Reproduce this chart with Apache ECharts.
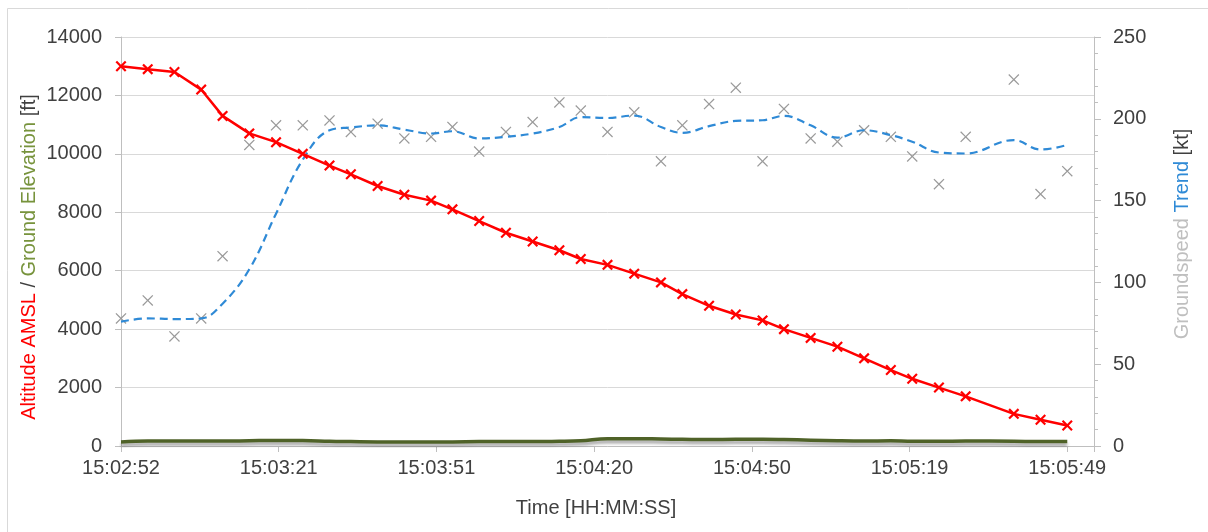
<!DOCTYPE html>
<html><head><meta charset="utf-8">
<script src="https://cdn.jsdelivr.net/npm/echarts@6/dist/echarts.min.js"></script>
<style>html,body{margin:0;padding:0;background:#fff}#c{width:1208px;height:532px}</style>
</head><body><div id="c"></div>
<script>
const times = ['15:02:52','15:02:57','15:03:02','15:03:07','15:03:11','15:03:16','15:03:21','15:03:26','15:03:31','15:03:35','15:03:40','15:03:45','15:03:50',
  '15:03:54','15:03:59','15:04:04','15:04:09','15:04:14','15:04:18','15:04:23','15:04:28','15:04:33','15:04:37','15:04:42','15:04:47','15:04:52',
  '15:04:56','15:05:01','15:05:06','15:05:11','15:05:16','15:05:20','15:05:25','15:05:30','15:05:39','15:05:44','15:05:49'];
const altitude = [13000,12900,12800,12200,11300,10700,10400,10000,9600,9300,8900,8600,8400,
  8100,7700,7300,7000,6700,6400,6200,5900,5600,5200,4800,4500,4300,
  4000,3700,3400,3000,2600,2300,2000,1700,1100,900,700];
const groundElevation = [140,170,170,170,170,180,190,190,160,150,140,140,140,
  140,150,150,150,160,180,250,250,240,230,220,230,230,
  220,200,180,170,180,160,160,170,160,150,150];
const groundspeed = [78,89,67,78,116,184,196,196,199,192,197,188,189,
  195,180,192,198,210,205,192,204,174,196,209,219,174,
  206,188,186,193,189,177,160,189,224,154,168];
const trend = [76,78,77.6,78,87,108,142,175,193,194.7,196,193.4,191,
  192.4,188,189,191,195,201,200.5,202,195,191.4,195.5,198.7,199.1,
  201.8,196,188.5,193,190,186,179.4,178.8,187,181.2,184];
const xTickLabels = ['15:02:52','15:03:21','15:03:51','15:04:20','15:04:50','15:05:19','15:05:49'];
const xTickStep = 29.5;

function toSec(t){const p=t.split(':').map(Number);return p[0]*3600+p[1]*60+p[2];}
const t0 = toSec(times[0]);
const xs = times.map(t => toSec(t) - t0);
const pair = arr => xs.map((x,i) => [x, arr[i]]);

const FONT = 'Liberation Sans, Arial, sans-serif';
const AX = '#bfbfbf', TXT = '#404040';
const xRed = 'path://M0,1.4L1.4,0L5,3.6L8.6,0L10,1.4L6.4,5L10,8.6L8.6,10L5,6.4L1.4,10L0,8.6L3.6,5Z';
const xGray = 'path://M0,0.8L0.8,0L5,4.2L9.2,0L10,0.8L5.8,5L10,9.2L9.2,10L5,5.8L0.8,10L0,9.2L4.2,5Z';

const chart = echarts.init(document.getElementById('c'));
chart.setOption({
  animation: false,
  backgroundColor: '#fff',
  grid: {left: 121, right: 114, top: 37, bottom: 86},
  xAxis: {
    type: 'value', min: 0, max: 182, interval: xTickStep,
    axisLine: {show: true, lineStyle: {color: AX, width: 1}},
    axisTick: {show: true, length: 6, lineStyle: {color: AX}},
    splitLine: {show: false},
    axisLabel: {
      fontSize: 20, color: TXT, fontFamily: FONT, margin: 12, showMaxLabel: true,
      formatter: v => {
        const i = Math.round(v / xTickStep);
        return (Math.abs(i * xTickStep - v) < 0.01 && i < xTickLabels.length) ? xTickLabels[i] : '';
      }
    }
  },
  yAxis: [{
    type: 'value', min: 0, max: 14000, interval: 2000, position: 'left',
    axisLine: {show: true, lineStyle: {color: AX}},
    axisTick: {show: true, length: 6, lineStyle: {color: AX}},
    splitLine: {show: true, lineStyle: {color: '#d9d9d9', width: 1}},
    axisLabel: {fontSize: 20, color: TXT, fontFamily: FONT, margin: 19, formatter: v => String(v)}
  }, {
    type: 'value', min: 0, max: 250, interval: 50, position: 'right',
    axisLine: {show: true, lineStyle: {color: AX}},
    axisTick: {show: true, length: 7, lineStyle: {color: AX}},
    minorTick: {show: true, splitNumber: 5, length: 4, lineStyle: {color: AX}},
    splitLine: {show: false},
    axisLabel: {fontSize: 20, color: TXT, fontFamily: FONT, margin: 19, formatter: v => String(v)}
  }],
  graphic: [
    {type: 'rect', z: -10, shape: {x: 7.5, y: 8.5, width: 1300, height: 700}, style: {fill: 'none', stroke: '#d9d9d9', lineWidth: 1}},
    {type: 'text', x: 596, y: 508, style: {text: 'Time [HH:MM:SS]', fill: TXT, font: '20px ' + FONT, align: 'center', verticalAlign: 'middle'}},
    {type: 'text', x: 29, y: 257, rotation: Math.PI / 2, style: {
      text: '{r|Altitude AMSL}{k| / }{g|Ground Elevation}{k| [ft]}', align: 'center', verticalAlign: 'middle', font: '20px ' + FONT, fill: TXT,
      rich: {
        r: {fill: '#ff0000', fontSize: 20, fontFamily: FONT},
        g: {fill: '#77933c', fontSize: 20, fontFamily: FONT},
        k: {fill: TXT, fontSize: 20, fontFamily: FONT}
      }}},
    {type: 'text', x: 1182, y: 234, rotation: Math.PI / 2, style: {
      text: '{s|Groundspeed}{k| }{b|Trend}{k| [kt]}', align: 'center', verticalAlign: 'middle', font: '20px ' + FONT, fill: TXT,
      rich: {
        s: {fill: '#bfbfbf', fontSize: 20, fontFamily: FONT},
        b: {fill: '#2f8ad6', fontSize: 20, fontFamily: FONT},
        k: {fill: TXT, fontSize: 20, fontFamily: FONT}
      }}}
  ],
  series: [
    {
      name: 'Ground Elevation', type: 'line', yAxisIndex: 0, data: pair(groundElevation),
      showSymbol: false, smooth: 0.4,
      lineStyle: {color: '#4f6228', width: 3.5, shadowColor: 'rgba(0,0,0,0.35)', shadowBlur: 3, shadowOffsetY: 3},
      z: 2
    },
    {
      name: 'Groundspeed', type: 'scatter', yAxisIndex: 1, data: pair(groundspeed),
      symbol: xGray, symbolSize: 11, itemStyle: {color: '#9a9a9a', opacity: 1}, z: 3
    },
    {
      name: 'Trend', type: 'line', yAxisIndex: 1, data: pair(trend),
      showSymbol: false, smooth: 0.4,
      lineStyle: {color: '#2f8ad6', width: 2.2, type: [8, 5]}, z: 4
    },
    {
      name: 'Altitude AMSL', type: 'line', yAxisIndex: 0, data: pair(altitude),
      symbol: xRed, symbolSize: 11, showSymbol: true,
      itemStyle: {color: '#ff0000'},
      lineStyle: {color: '#ff0000', width: 2.5}, z: 5
    }
  ]
});
</script></body></html>
